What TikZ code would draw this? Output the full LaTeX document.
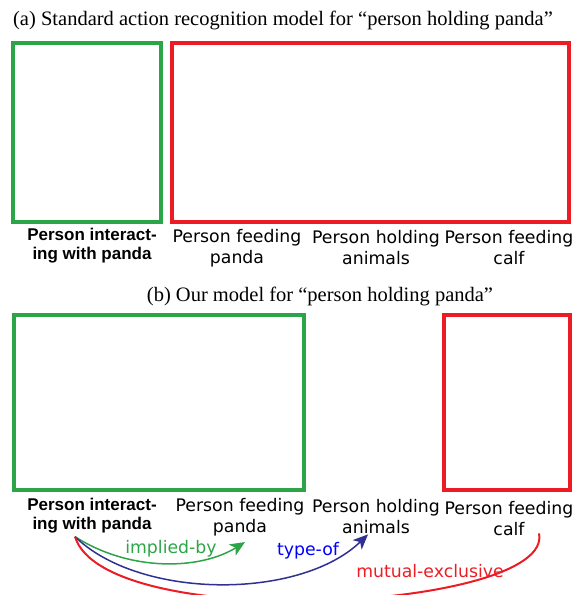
\documentclass[tikz,border=0pt]{standalone}
\usepackage{fontspec}
\setmainfont{Liberation Serif}
\newfontfamily\labfont{DejaVu Sans}
\newfontfamily\boldfont{Liberation Sans}
\usetikzlibrary{arrows.meta}
\definecolor{boxgreen}{RGB}{44,165,72}
\definecolor{boxred}{RGB}{237,28,36}
\definecolor{arrowblue}{RGB}{46,49,146}
\definecolor{textblue}{RGB}{0,0,255}
\begin{document}
\begin{tikzpicture}
[x=1pt,y=1pt,
  titleDecorate/.style={inner sep=0pt,font=\fontsize{20.5}{24}\selectfont},
  goodBox/.style={draw=boxgreen,line width=4pt,inner sep=0pt},
  badBox/.style={draw=boxred,line width=4pt,inner sep=0pt},
  actDecorate/.style={align=center,inner sep=0pt,font=\labfont\fontsize{17.3}{21}\selectfont},
  mainDecorate/.style={align=center,inner sep=0pt,font=\boldfont\bfseries\fontsize{17}{19}\selectfont},
  relDecorate/.style={line width=1.5pt},
  relTip/.style={-{Stealth[length=15pt,width=13pt,inset=4pt]}},
  relLabel/.style={inner sep=0pt,font=\labfont\fontsize{17.3}{21}\selectfont}]
\useasboundingbox (0,0) rectangle (582,-595);
\clip (0,0) rectangle (582,-595);
%% titles
\node (titleA) at (283,-20) [titleDecorate] {(a) Standard action recognition model for ``person holding panda''};
\node (titleB) at (320,-296) [titleDecorate] {(b) Our model for ``person holding panda''};
%% image boxes
\foreach \nodename/\x/\y/\w/\h/\kind in {
  imgA1/87/-132.5/148/179/goodBox, imgA2/370.5/-132.5/397/179/badBox,
  imgB1/159/-402.5/290/175/goodBox, imgB2/507/-402.5/126/175/badBox}
{
  \node (\nodename) at (\x,\y) [\kind,minimum width=\w,minimum height=\h] {};
}
%% action labels
\node (mainA) at (92,-246) [mainDecorate] {Person interact-\\ing with panda};
\node (mainB) at (92,-516) [mainDecorate] {Person interact-\\ing with panda};
\foreach \nodename/\x/\y/\txt in {
  feedA/237/-248/Person feeding\\panda, holdA/376/-248/Person holding\\animals,
  calfA/509/-248/Person feeding\\calf,
  feedB/240/-517/Person feeding\\panda, holdB/376/-517/Person holding\\animals,
  calfB/509/-519/Person feeding\\calf}
{
  \node (\nodename) at (\x,\y) [actDecorate] {\txt};
}
%% relations
\coordinate (src) at ([xshift=-17pt,yshift=-3pt]mainB.south);
\draw[relDecorate,boxgreen,relTip]
  (src) .. controls (130,-572) and (200,-570) .. ([xshift=5pt,yshift=-6pt]feedB.south);
\draw[relDecorate,arrowblue,relTip]
  (src) .. controls (140,-600) and (300,-600) .. ([xshift=-8pt]holdB.south);
\draw[relDecorate,boxred,line width=2pt]
  (src) .. controls (105,-635) and (555,-610) .. ([xshift=30pt,yshift=3pt]calfB.south);
\node (impl) at (171,-549) [relLabel,text=boxgreen] {implied-by};
\node (type) at (308,-551) [relLabel,text=textblue] {type-of};
\node (mutex) at (430,-571) [relLabel,text=boxred] {mutual-exclusive};
\end{tikzpicture}
\end{document}
